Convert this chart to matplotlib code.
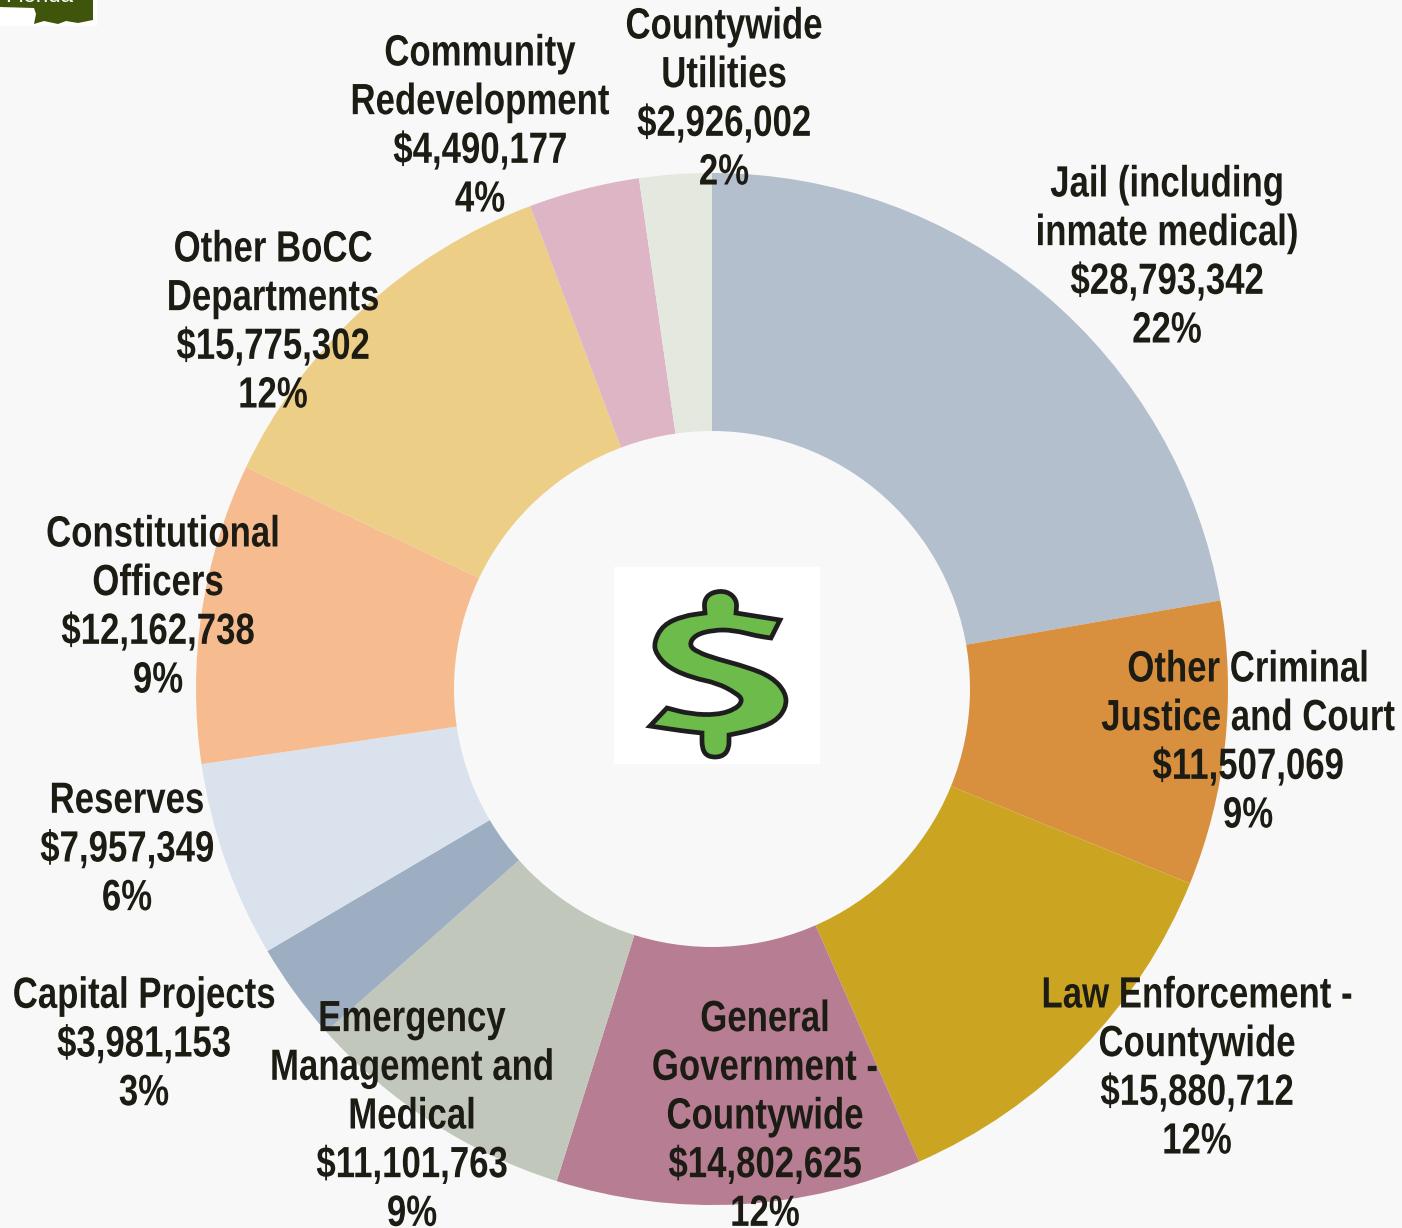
import matplotlib
matplotlib.use("Agg")
import matplotlib.pyplot as plt
from matplotlib.patches import Rectangle, Polygon, PathPatch, Circle
from matplotlib.path import Path
from matplotlib.patheffects import AbstractPathEffect
from matplotlib.transforms import Affine2D

plt.rcParams['font.family'] = ['Liberation Sans', 'DejaVu Sans']

categories = ["Jail (including\ninmate medical)", "Other Criminal\nJustice and Court",
              "Law Enforcement -\nCountywide", "General\nGovernment -\nCountywide",
              "Emergency\nManagement and\nMedical", "Capital Projects", "Reserves",
              " Constitutional\nOfficers", "Other BoCC\nDepartments",
              "Community\nRedevelopment", "Countywide\nUtilities"]
values = [28793342, 11507069, 15880712, 14802625, 11101763, 3981153, 7957349,
          12162738, 15775302, 4490177, 2926002]
percents = [22, 9, 12, 12, 9, 3, 6, 9, 12, 4, 2]
colors = ['#B3BFCC', '#D8903E', '#CBA522', '#B77D92', '#C1C7BB', '#9DAEC3', '#DAE2ED',
          '#F6BC90', '#ECCE86', '#DDB5C5', '#E5E8DF']
# label centres, in image pixels
label_x = [1167, 1248, 1197, 765, 412, 144, 127, 158, 273, 480, 724]
label_y = [258, 743, 1069, 1117, 1117, 1045, 850, 608, 323, 127, 100]

W, H = 1402, 1228
BG = '#F8F8F8'
CX, CY, R_OUT, R_IN = 712, 689, 516, 258

# outline of the dollar icon, traced in image pixels, corners given twice stay sharp
dollar = [(705, 613), (705, 613), (704, 600), (712, 592), (727, 591), (737, 600), (736, 613), (736, 613),
          (780, 620), (780, 620), (771, 638), (771, 638), (757, 636), (733, 630), (713, 630), (695, 635),
          (689, 645), (697, 652), (717, 659), (747, 667), (772, 677), (786, 693),
          (786, 708), (775, 722), (753, 730), (729, 735), (729, 735), (729, 749), (722, 757),
          (708, 757), (702, 749), (702, 733), (702, 733), (683, 731), (650, 726), (650, 726), (667, 708), (667, 708),
          (690, 714), (717, 715), (736, 709), (743, 700), (736, 693), (717, 683),
          (693, 678), (669, 668), (656, 654), (654, 642), (663, 625), (683, 616)]


class SqueezeX(AbstractPathEffect):
    # the label face is a condensed bold, squeeze the glyphs about the label centre
    def __init__(self, cx, factor):
        super().__init__()
        self.cx = cx
        self.factor = factor

    def draw_path(self, renderer, gc, tpath, affine, rgbFace=None):
        squeeze = Affine2D().translate(-self.cx, 0).scale(self.factor, 1).translate(self.cx, 0)
        renderer.draw_path(gc, tpath, affine + squeeze, rgbFace)


def fy(y):
    # image rows run downwards, the axes upwards
    return H - y


fig = plt.figure(figsize=(W / 100, H / 100), dpi=100, facecolor=BG)
ax = fig.add_axes([0, 0, 1, 1])
ax.pie(values, colors=colors, startangle=90, counterclock=False,
       center=(CX, fy(CY)), radius=R_OUT, wedgeprops=dict(linewidth=0))
ax.add_patch(Circle((CX, fy(CY)), R_IN, fc=BG, ec='none', zorder=3))
ax.set_xlim(0, W)
ax.set_ylim(0, H)
ax.set_aspect('equal')
ax.axis('off')

# county logo cut off in the corner
ax.add_patch(Rectangle((0, fy(26)), 97, 26, fc='white', ec='none', zorder=3))
logo = [(0, 0), (93, 0), (93, 20), (78, 23), (66, 21), (58, 24), (44, 21), (34, 24),
        (36, 14), (34, 8), (0, 7)]
ax.add_patch(Polygon([(x, fy(y)) for x, y in logo], fc='#3F550C', ec='none', zorder=4))
ax.text(39, fy(-3), "Florida", color='white', fontsize=16, ha='center', va='center', zorder=5)

# dollar icon, closed curve through the midpoints of the traced outline
ax.add_patch(Rectangle((614, fy(764)), 206, 197, fc='white', ec='none', zorder=4))
verts, codes = [], []
n = len(dollar)
for i in range(n):
    x0, y0 = dollar[i]
    x1, y1 = dollar[(i + 1) % n]
    mid = ((x0 + x1) / 2, fy((y0 + y1) / 2))
    if i == 0:
        start = ((dollar[-1][0] + x0) / 2, fy((dollar[-1][1] + y0) / 2))
        verts.append(start)
        codes.append(Path.MOVETO)
    verts += [(x0, fy(y0)), mid]
    codes += [Path.CURVE3, Path.CURVE3]
ax.add_patch(PathPatch(Path(verts, codes), fc='#6DBB4A', ec='#1E1E1E', lw=3.4, zorder=5))

for name, val, pct, x, y in zip(categories, values, percents, label_x, label_y):
    ax.text(x, fy(y), f"{name}\n${val:,}\n{pct}%", ha='center', va='center',
            fontsize=31.5, fontweight='bold', color='#1C1C14', linespacing=1.24, zorder=6,
            path_effects=[SqueezeX(x, 0.795)])

fig.savefig("out.png", dpi=100, facecolor=BG)
